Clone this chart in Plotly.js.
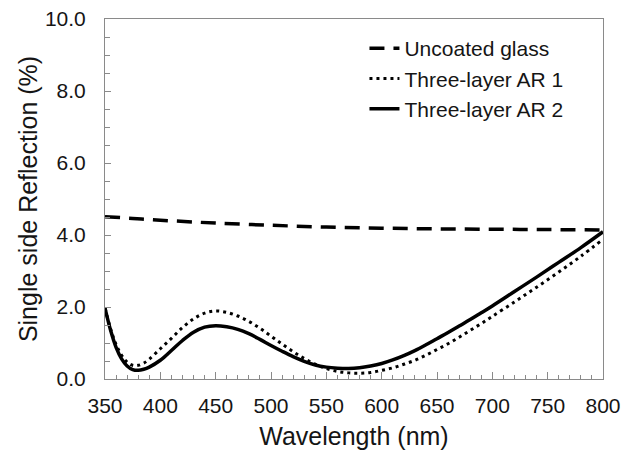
<!DOCTYPE html>
<html>
<head>
<meta charset="utf-8">
<script src="https://cdn.plot.ly/plotly-3.0.1.min.js"></script>
<style>
  html, body { margin: 0; padding: 0; background: #ffffff; }
  #chart { width: 632px; height: 450px; }
</style>
</head>
<body>
<div id="chart"></div>
<script>
// Series names
const seriesNames = ["Uncoated glass", "Three-layer AR 1", "Three-layer AR 2"];

// Uncoated glass (%)
const glassWavelength = [350, 375, 400, 425, 450, 500, 550, 600, 650, 700, 750, 800];
const glassReflection = [4.51, 4.46, 4.41, 4.37, 4.33, 4.27, 4.22, 4.19, 4.17, 4.16, 4.15, 4.14];

// Three-layer AR 1 (dotted)
const ar1Wavelength = [350, 355, 360, 365, 370, 375, 380, 385, 390, 400, 410, 420, 430, 440, 450,
  460, 470, 480, 490, 500, 510, 520, 530, 540, 550, 560, 570, 580, 590, 600, 610, 620, 630, 640, 650,
  660, 670, 680, 690, 700, 720, 740, 760, 780, 800];
const ar1Reflection = [1.97, 1.40, 0.96, 0.66, 0.47, 0.38, 0.38, 0.44, 0.55, 0.84, 1.13, 1.43, 1.67, 1.83, 1.89,
  1.85, 1.75, 1.60, 1.41, 1.19, 0.97, 0.76, 0.57, 0.41, 0.29, 0.21, 0.17, 0.16, 0.18, 0.24, 0.31, 0.41, 0.52, 0.66, 0.82,
  0.98, 1.16, 1.35, 1.54, 1.74, 2.14, 2.55, 2.97, 3.41, 3.88];

// Three-layer AR 2 (solid)
const ar2Wavelength = [350, 355, 360, 365, 370, 375, 380, 385, 390, 400, 410, 420, 430, 440, 450,
  460, 470, 480, 490, 500, 510, 520, 530, 540, 550, 560, 570, 580, 590, 600, 610, 620, 630, 640, 650,
  660, 670, 680, 690, 700, 720, 740, 760, 780, 800];
const ar2Reflection = [1.97, 1.36, 0.88, 0.56, 0.36, 0.26, 0.24, 0.27, 0.33, 0.52, 0.79, 1.07, 1.30, 1.44, 1.48,
  1.45, 1.38, 1.26, 1.10, 0.93, 0.77, 0.62, 0.49, 0.39, 0.33, 0.30, 0.29, 0.31, 0.36, 0.43, 0.53, 0.65, 0.79, 0.95, 1.12,
  1.29, 1.47, 1.65, 1.84, 2.03, 2.43, 2.83, 3.24, 3.65, 4.09];

// Axis labels
const xTitle = "Wavelength (nm)";
const yTitle = "Single side Reflection (%)";

const FONT = "Liberation Sans, Arial, sans-serif";
const INK = "#151515";
const AXIS = "#8a8a8a";

const traces = [
  {
    x: glassWavelength, y: glassReflection, name: seriesNames[0],
    type: "scatter", mode: "lines",
    line: { color: "#000000", width: 3.5, dash: "15px,9px", shape: "spline" }
  },
  {
    x: ar1Wavelength, y: ar1Reflection, name: seriesNames[1],
    type: "scatter", mode: "lines",
    line: { color: "#000000", width: 3, dash: "3px,4px", shape: "spline" }
  },
  {
    x: ar2Wavelength, y: ar2Reflection, name: seriesNames[2],
    type: "scatter", mode: "lines",
    line: { color: "#000000", width: 3.5, shape: "spline" }
  }
];

const layout = {
  width: 632, height: 450,
  margin: { l: 105, r: 29, t: 19, b: 71 },
  paper_bgcolor: "#ffffff", plot_bgcolor: "#ffffff",
  font: { family: FONT, color: INK, size: 21 },
  showlegend: true,
  legend: {
    x: 0.521, y: 0.975, xanchor: "left", yanchor: "top",
    bgcolor: "rgba(0,0,0,0)", borderwidth: 0,
    font: { family: FONT, size: 21, color: INK },
    itemwidth: 30, tracegroupgap: 0
  },
  xaxis: {
    range: [350, 800], tick0: 350, dtick: 50,
    showgrid: false, zeroline: false,
    showline: true, linecolor: AXIS, linewidth: 1, mirror: true,
    ticks: "inside", ticklen: 7, tickcolor: AXIS, tickwidth: 1,
    minor: { dtick: 10, ticks: "inside", ticklen: 4, tickcolor: AXIS, tickwidth: 1, showgrid: false },
    tickfont: { family: FONT, size: 21, color: INK },
    ticklabelstandoff: 8,
    title: { text: xTitle, font: { family: FONT, size: 25, color: INK }, standoff: 15 }
  },
  yaxis: {
    range: [0, 10], tick0: 0, dtick: 2, tickformat: ".1f",
    showgrid: false, zeroline: false,
    showline: true, linecolor: AXIS, linewidth: 1, mirror: true,
    ticks: "inside", ticklen: 6, tickcolor: AXIS, tickwidth: 1,
    minor: { dtick: 0.5, ticks: "inside", ticklen: 5, tickcolor: AXIS, tickwidth: 1, showgrid: false },
    tickfont: { family: FONT, size: 21, color: INK },
    ticklabelstandoff: 14,
    title: { text: yTitle, font: { family: FONT, size: 25, color: INK }, standoff: 0 }
  }
};

Plotly.newPlot("chart", traces, layout, { staticPlot: true, displayModeBar: false });
</script>
</body>
</html>
